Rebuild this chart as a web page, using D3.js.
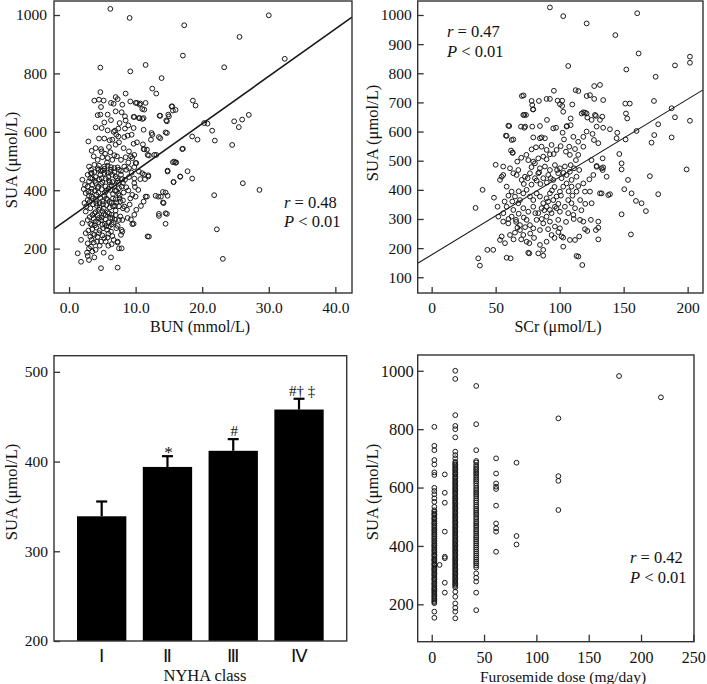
<!DOCTYPE html>
<html><head><meta charset="utf-8">
<script src="https://cdn.jsdelivr.net/npm/d3@7"></script>
<style>
html,body{margin:0;padding:0;background:#fff;}
svg{display:block;}
text{font-family:"Liberation Serif","Times New Roman",serif;fill:#111;}
</style></head>
<body>
<svg id="chart" width="707" height="684"></svg>
<script>
// ---------------- DATA ----------------
// Panel A: BUN (mmol/L) vs SUA (umol/L)
const bunPoints = [
[6.2,1021],[9.1,990],[17.3,965],[30.0,999],[25.6,925],[17.1,861],[32.4,850],[4.7,820],[9.2,807],[11.5,829],[23.3,821],[13.9,784],[12.5,748],[13.1,731],[18.6,707],[19.0,690],[15.5,687],[16.0,675],[13.7,655],[14.9,659],[14.6,639],[14.7,596],[12.4,596],[13.7,578],[17.1,542],[18.5,584],[19.3,573],[20.3,630],[20.8,628],[21.5,604],[21.9,570],[24.5,555],[24.8,636],[25.5,616],[26.0,642],[27.0,658],[26.1,424],[28.6,401],[21.8,383],[22.2,266],[23.1,165],[11.8,242],[14.8,464],[15.6,496],[16.0,494],[15.7,428],[16.7,446],[17.8,465],[18.5,440],[14.1,394],[13.4,378],[14.1,358],[14.8,381],[13.5,312],[14.5,321],[14.5,285],[11.7,378],[11.7,539],[11.3,540],[12.0,519],[13.1,521],[11.9,451],[11.4,438],[10.7,438],[11.0,458],[10.1,493],[9.7,285],[9.9,411],[9.8,440],[9.7,559],[10.2,564],[11.1,557],[11.2,607],[11.2,647],[10.6,647],[10.7,697],[10.2,699],[11.5,699],[11.3,676],[9.7,651],[9.2,704],
[4.7,736],[3.8,707],[4.5,710],[5.2,707],[7.0,719],[7.3,712],[6.3,699],[6.7,696],[8.0,693],[8.5,731],[10.0,699],[10.6,693],[11.0,678],[15.4,687],[15.6,673],[4.8,685],[4.7,659],[5.8,659],[4.3,657],[7.0,670],[7.9,667],[8.4,653],[8.5,639],[9.8,651],[10.5,647],[11.0,644],[13.6,655],[14.7,636],[15.0,653],
[4.0,615],[4.9,613],[5.8,605],[6.9,604],[7.4,611],[8.4,611],[9.7,613],[13.5,582],[14.5,598],[2.9,567],[4.5,577],[5.3,577],[6.1,571],[6.5,573],[7.4,584],[8.3,582],[8.8,587],[12.5,590],[12.3,573],
[4.0,544],[4.8,541],[6.0,548],[8.2,544],[9.0,533],[9.8,521],[7.0,556],[7.5,564],[9.3,516],[9.5,510],[11.2,541],[11.8,521],[12.8,521],[15.8,498],[16.1,495],[14.8,467],[16.7,447],[15.7,428],[17.0,541],
[3.7,516],[4.3,504],[5.0,513],[5.8,510],[6.5,504],[7.2,516],[7.8,504],[8.5,513],[10.0,493],
[3.0,481],[3.8,487],[4.5,484],[5.3,481],[5.8,484],[6.3,479],[6.8,476],[7.5,470],[8.3,481],[9.0,476],[9.8,479],[10.5,464],[11.3,453],[11.9,447],
[2.0,436],[2.4,418],[2.8,453],[3.4,459],[4.0,445],[4.7,453],[5.3,459],[5.9,445],[6.5,453],[7.2,441],[7.8,453],[8.4,436],[9.0,445],[9.8,424],
[2.8,413],[3.5,418],[4.3,407],[4.8,422],[5.5,413],[6.2,401],[6.8,415],[7.5,407],[8.2,392],[8.9,399],[9.5,384],[10.0,378],
[2.3,356],[2.8,367],[3.4,378],[4.0,367],[4.7,373],[5.3,381],[5.8,367],[6.4,356],[7.0,369],[7.7,361],[8.3,344],[8.7,333],
[11.5,378],[13.0,381],[13.8,378],[14.5,392],[14.2,356],[13.5,319],[14.7,319],[12.0,241],[11.2,361],[10.8,346],[10.1,333],[9.8,316],
[2.5,327],[3.2,338],[3.8,321],[4.5,333],[5.2,338],[5.8,324],[6.4,316],[7.0,330],[7.7,310],[8.0,298],
[2.0,287],[2.8,298],[3.4,281],[4.0,293],[4.8,298],[5.4,285],[6.0,276],[6.7,289],[7.3,278],[7.9,264],[9.5,284],
[1.8,230],[2.5,253],[3.2,241],[3.8,247],[4.5,253],[5.3,236],[5.9,251],[6.7,230],[7.3,224],[7.8,247],[8.0,258],
[2.8,218],[3.3,207],[3.7,221],[4.2,224],[4.8,224],[5.5,224],[7.3,221],[7.5,201],[7.9,201],
[3.0,201],[4.0,196],[2.7,186],[3.5,190],[1.3,184],[2.8,175],[1.8,155],[3.0,161],[3.8,170],[5.2,186],[6.3,170],[4.8,133],[7.3,135],
[3.3,395],[3.9,432],[4.4,392],[4.9,441],[5.6,398],[6.1,427],[6.6,387],[7.3,432],[3.6,352],[4.2,346],[5.0,362],[5.6,349],[6.1,341],[6.9,347],[3.1,308],[3.7,302],[4.3,314],[4.9,307],[5.5,300],[6.2,305],[6.9,299],[3.5,267],[4.1,272],[4.6,262],[5.1,270],[5.7,265],[6.3,258],[4.4,470],[5.1,468],[5.7,495],[6.2,462],[3.2,441],[4.1,385],[4.6,356],[5.2,318],[5.9,290],[6.6,372],[7.1,398],[7.6,382],[8.1,425],[8.6,410],[9.2,372],[9.4,460],[8.9,495],[8.6,470],[9.1,351],[8.8,305],[9.3,300],[6.8,520],[6.2,530],[5.4,525],[4.9,533],[3.4,535],[3.0,380],[2.5,390],[2.2,404],[6.7,600],[5.3,632],[6.3,640],[7.6,630],[8.9,622],[9.4,590],[7.1,590],[3.3,458],[7.5,345],[8.1,365],[10.4,401],
[2.6,345],[3.1,360],[3.6,372],[4.1,355],[4.6,340],[5.1,352],[5.6,372],[6.1,360],[6.6,345],[7.1,358],[7.6,372],[8.1,338],[2.9,395],[3.4,405],[3.9,398],[4.4,412],[4.9,403],[5.4,392],[5.9,405],[6.4,417],[6.9,398],[7.4,388],[7.9,412],[3.0,430],[3.5,440],[4.0,425],[4.5,437],[5.0,428],[5.5,440],[6.0,433],[6.5,428],[7.0,447],[7.5,425],[8.0,438],[3.3,470],[3.8,462],[4.3,475],[4.8,466],[5.3,473],[5.8,460],[6.3,470],[6.8,462],[7.3,478],[7.8,466],[3.5,315],[4.0,325],[4.5,305],[5.0,328],[5.5,315],[6.0,320],[6.5,305],[7.0,315],[7.5,298],[3.2,285],[3.9,280],[4.4,290],[5.0,282],[5.6,277],[6.4,283],[7.1,270],[2.9,262],[3.6,250],[4.3,240],[5.0,245],[5.8,238],[6.5,243],[4.6,210],[5.9,210],[6.4,215],[3.4,230]
];
const bunFit = {intercept: 304, slope: 16.2};
const bunStats = ["r = 0.48", "P < 0.01"];
const bunXTicks = [0, 10, 20, 30, 40];
const bunYTicks = [200, 400, 600, 800, 1000];

// Panel B: SCr (umol/L) vs SUA
const scrPoints = [
[92.4,1026],[102.8,996],[121.1,971],[160.6,1006],[143.5,931],[161.7,868],[106.7,825],[152.1,813],[175,788],[190.1,827],[201.8,857],[201.8,836],[123.7,725],[127,756],[127,712],[134,613],[139.3,608],[151.3,696],[154.8,696],[151.8,662],[152.8,645],[151.5,573],[160.1,602],[173.7,705],[173.9,588],[171.8,562],[177,625],[187.5,680],[190.1,649],[187.5,580],[201.8,637],[199.2,470],[170.5,447],[177,385],[167.4,327],[164,354],[159.6,362],[156.2,388],[150.5,402],[153.4,434],[148.4,470],[148.4,491],[146.6,523],[144.5,577],[145,596],[148.4,316],[155.7,247],[139.3,385],[132.8,388],[133.6,468],[133.6,508],[128.9,482],[130.2,291],[130.2,270],[130.2,230],[125,354],[124.4,297],[128.3,262],[114.6,171],[117.7,142],[102.8,236],[108,228],[34.3,338],[36.4,165],[37.7,140],[39.8,400],[43.5,194],[48.1,194],[48.7,373],[50,486],[51.5,342],[58,586],[60.6,619],[63.8,573],[63.3,527],[70.5,722],[71.8,724],[72.4,657],[73.7,657],[72.4,613],[78.1,705],[78.6,691],[78.6,617],[79.1,676],[84.6,619],[83.8,705],[90.1,640],[89.8,712],[92.4,712],[95.5,740],[98.4,706],[100.2,694],[102,706],[102,688],[102.8,668],[109.9,693],[105.7,619],[108.6,622],[112.5,742],[114.6,739],[121.1,722],[121.6,648],[118.5,666],[119.8,665],[128.3,654],[133.3,651],[58.6,167],[76.3,182],[87.2,174],
[55.9,480],[55.9,451],[59.9,620],[58.6,585],[53.4,434],[54.7,445],[62.5,571],[63.3,528],[66.9,497],[67.7,468],[61.2,474],[63.8,457],[71.6,657],[69.8,617],[73.1,617],[79.4,676],[79.4,580],[78.1,539],[81.5,546],[84.6,577],[85.9,580],[88.5,577],[75.5,502],[79.4,497],[83.3,508],[87.2,514],[89.8,505],[92.4,522],[95.3,523],[95,611],[97.2,613],[102.3,596],[108.6,645],[105.4,617],[103.4,573],[107.5,548],[117.2,662],[121.1,662],[121.1,600],[125.7,592],[126.8,571],[130.2,560],[118.5,548],[114.5,520],[112.7,502],[108.6,485],[124.9,502],[128.9,479],[134,477],[126.3,451],[123.2,436],[118.5,422],[114.5,413],[119.8,394],[123.7,394],[131.5,388],[138,382],[106.7,320],[110.7,314],[112,337],[115.9,297],[118.5,291],[119.8,265],[121.6,259],[115.3,240],[112,228],[101.5,240],[102.8,205],[93.7,245],[89.8,222],[84.6,211],[87.2,194],[75.5,184],[83.3,182],[61.7,165],[113.2,173],[74.2,222],[76.3,217],[53.4,228],[54.7,240],[57.3,217],[61.2,245],[65.1,253],[69,262],[71.6,245],[52.1,308],[55.9,291],[59.9,285],[62.5,308],[65.9,297],[69,279],[74.2,297],[76.8,279],[79.4,268],[82,297],[84.6,262],[87.2,285],[89.8,308],[92.4,291],[96.3,274],[98.9,297],[100.2,268],[92.4,331],[96.3,342],[100.2,325],[104.1,342],[106.7,365],[109.3,354],
[58.6,411],[62.5,394],[65.1,377],[69,365],[71.6,388],[74.2,400],[76.8,377],[79.4,365],[82,388],[84.6,377],[87.2,354],[89.8,371],[92.4,388],[95,365],[97.6,377],[100.2,394],[102.8,411],[105.4,422],[109.3,411],[113.2,394],
[58.6,342],[63.8,331],[67.7,354],[71.6,337],[75.5,325],[79.4,342],[83.3,320],[85.9,337],[89.8,342],[93.7,320],[97.6,337],
[66.4,451],[70.3,434],[72.9,445],[76.8,457],[80.7,440],[83.3,457],[87.2,440],[91.1,451],[95,434],[98.9,457],[101.5,440],[105.4,451],[109.3,434],[113.2,445],
[80.7,491],[84.6,474],[88.5,480],[92.4,468],[96.3,485],[100.2,474],[104.1,480],[108,462],[111.2,474],[115.3,468],
[85.9,548],[89.8,537],[93.7,554],[97.6,537],[100.8,550],[104.9,531],[110.7,582],[114.5,565],[118.5,582],
[128.9,617],[131.5,640],[127.6,657],[125,640],[134,708],[131.5,760],[132.8,474],[136.7,445],
[64,230],[66,290],[68,318],[72,305],[70,230],[77,250],[80,235],[81,320],[86,300],[88,330],[91,360],[94,398],[96,410],[99,352],[101,380],[85,420],[82,432],[78,418],[75,440],[72,420],[68,395],[63,360],[60,380],[57,360],[56,320],[60,300],[67,270],[73,272],[90,425],[93,440],[98,468],[103,458],[107,395],[110,380],[116,365],[120,352],[117,330],[111,300],[105,290],[99,255],[96,235],[91,265],[70,510],[74,520],[78,478],[84,460],[62,535],[108,520],[112,540]
];
const scrFit = {intercept: 177, slope: 2.67};
const scrStats = ["r = 0.47", "P < 0.01"];
const scrXTicks = [0, 50, 100, 150, 200];
const scrYTicks = [100, 200, 300, 400, 500, 600, 700, 800, 900, 1000];

// Panel C: SUA by NYHA class (mean, SE)
const nyhaClasses = ["\u2160", "\u2161", "\u2162", "\u2163"];
const nyhaMean = [339, 394, 412, 458];
const nyhaSE = [16.5, 12, 13, 12];
const nyhaMarks = ["", "*", "#", "#\u2020 \u2021"];
const nyhaYTicks = [200, 300, 400, 500];

// Panel D: Furosemide dose (mg/day) vs SUA
const furoDoses = [2.5, 7.5, 12.5, 22.5, 42.5, 61.5, 81, 121, 179, 219];
const furoSUA = [
 [808,743,728,694,679,652,643,599,588,577,563,551,534,522,517,511,508,503,496,494,489,483,478,476,470,465,461,455,452,447,441,438,433,427,424,418,414,409,403,401,396,390,386,382,377,371,368,364,358,353,351,346,340,337,333,327,322,319,315,310,305,301,297,291,287,284,279,273,270,266,260,255,252,248,243,239,235,229,226,221,217,212,208,204,175,154],
 [335],
 [645,582,548,449,363,358,274,240],
 [1000,972,848,811,800,772,723,711,700,688,684,679,676,670,666,661,657,652,647,644,638,634,630,625,620,616,612,607,603,598,594,590,585,581,577,571,567,563,558,554,549,546,541,537,532,528,524,519,515,511,506,502,497,493,489,484,480,476,471,467,463,458,454,450,445,441,437,432,428,423,419,415,410,406,402,397,393,389,384,380,376,371,367,362,358,354,349,345,341,336,332,328,323,319,315,310,306,302,297,293,289,284,280,276,271,267,263,258,243,226,203,188,175,152],
 [948,817,728,691,686,677,670,664,659,652,647,640,633,627,621,614,606,598,591,584,578,571,563,556,549,541,535,527,520,513,507,499,492,484,478,471,465,457,451,444,436,430,423,416,409,402,395,388,381,374,367,360,353,346,340,333,326,306,291,278,240,180],
 [700,648,614,603,595,538,477,460,449,380],
 [685,434,405],
 [837,639,623,523],
 [982],
 [909]
];
const furoStats = ["r = 0.42", "P < 0.01"];
const furoXTicks = [0, 50, 100, 150, 200, 250];
const furoYTicks = [200, 400, 600, 800, 1000];

// ---------------- DRAWING ----------------
const svg = d3.select("#chart");
const ink = "#1a1a1a";
const serif = '"Liberation Serif","Times New Roman",serif';

function frame(l, t, r, b) {
  svg.append("rect").attr("x", l).attr("y", t).attr("width", r - l).attr("height", b - t)
    .attr("fill", "none").attr("stroke", "#333").attr("stroke-width", 1.4);
}
function yAxis(y, left, ticks, fmt, fs, pad) {
  const g = svg.append("g").attr("transform", `translate(${left},0)`)
    .call(d3.axisLeft(y).tickValues(ticks).tickFormat(fmt).tickSize(-6).tickPadding(pad));
  g.select(".domain").remove();
  g.selectAll(".tick line").attr("stroke", "#333").attr("stroke-width", 1.3);
  g.selectAll("text").attr("font-size", fs).attr("fill", ink).attr("font-family", serif);
  return g;
}
function xAxis(x, bottom, ticks, fmt, fs, base, tsize, fam) {
  const g = svg.append("g").attr("transform", `translate(0,${bottom})`)
    .call(d3.axisBottom(x).tickValues(ticks).tickFormat(fmt).tickSize(tsize));
  g.select(".domain").remove();
  g.selectAll(".tick line").attr("stroke", "#333").attr("stroke-width", 1.3);
  g.selectAll("text").attr("dy", null).attr("y", base).attr("font-size", fs).attr("fill", ink)
    .attr("font-family", fam || serif);
  return g;
}
function yTitle(x, y, txt, fs) {
  svg.append("text").attr("transform", `translate(${x},${y}) rotate(-90)`)
    .attr("text-anchor", "middle").attr("font-size", fs).text(txt);
}
function xTitle(x, y, txt, fs) {
  svg.append("text").attr("x", x).attr("y", y).attr("text-anchor", "middle")
    .attr("font-size", fs).text(txt);
}
function stats(x, y1, y2, lines, fs) {
  [[y1, lines[0]], [y2, lines[1]]].forEach(([yy, s]) => {
    const t = svg.append("text").attr("x", x).attr("y", yy).attr("font-size", fs);
    t.append("tspan").attr("font-style", "italic").text(s.charAt(0));
    t.append("tspan").text(s.slice(1));
  });
}
function dots(pts, x, y) {
  svg.append("g").selectAll("circle").data(pts).join("circle")
    .attr("cx", d => x(d[0])).attr("cy", d => y(d[1])).attr("r", 2.4)
    .attr("fill", "none").attr("stroke", ink).attr("stroke-width", 1);
}
function fitLine(fit, x, y, w) {
  const [a, b] = x.domain();
  svg.append("line")
    .attr("x1", x(a)).attr("y1", y(fit.intercept + fit.slope * a))
    .attr("x2", x(b)).attr("y2", y(fit.intercept + fit.slope * b))
    .attr("stroke", ink).attr("stroke-width", w);
}

// ---- Panel A ----
{
  const L = 54, T = 1, R = 352, B = 293;
  const x = d3.scaleLinear().domain([-2.26, 42.5]).range([L, R]);
  const y = d3.scaleLinear().domain([48, 1048]).range([B, T]);
  dots(bunPoints, x, y);
  fitLine(bunFit, x, y, 1.6);
  frame(L, T, R, B);
  yAxis(y, L, bunYTicks, d3.format("d"), 15.5, 7);
  xAxis(x, B, bunXTicks, d3.format(".1f"), 15.5, 19.5, -6);
  yTitle(17, 160, "SUA (\u03bcmol/L)", 16.5);
  xTitle(200, 331.5, "BUN (mmol/L)", 16);
  stats(284, 208, 227, bunStats, 16.5);
}
// ---- Panel B ----
{
  const L = 417.7, T = 1, R = 703, B = 293;
  const x = d3.scaleLinear().domain([-10.9, 212]).range([L, R]);
  const y = d3.scaleLinear().domain([46, 1048]).range([B, T]);
  dots(scrPoints, x, y);
  fitLine(scrFit, x, y, 1.1);
  frame(L, T, R, B);
  yAxis(y, L, scrYTicks, d3.format("d"), 15.5, 6);
  xAxis(x, B, scrXTicks, d3.format("d"), 15.5, 19.5, -6);
  yTitle(378, 133, "SUA (\u03bcmol/L)", 16.5);
  xTitle(558, 331.5, "SCr (\u03bcmol/L)", 16);
  stats(447, 37, 57, scrStats, 16.5);
}
// ---- Panel C ----
{
  const L = 54, T = 355.7, R = 346.7, B = 641;
  const x = d3.scaleBand().domain(nyhaClasses).range([L, R]).paddingInner(0.25).paddingOuter(0.35);
  const y = d3.scaleLinear().domain([200, 518]).range([B, T]);
  const rows = nyhaClasses.map((c, i) => ({c, m: nyhaMean[i], se: nyhaSE[i], mark: nyhaMarks[i]}));
  const g = svg.append("g");
  g.selectAll("line.err").data(rows).join("line").attr("class", "err")
    .attr("x1", d => x(d.c) + x.bandwidth() / 2).attr("x2", d => x(d.c) + x.bandwidth() / 2)
    .attr("y1", d => y(d.m)).attr("y2", d => y(d.m + d.se))
    .attr("stroke", "#000").attr("stroke-width", 2.2);
  g.selectAll("line.cap").data(rows).join("line").attr("class", "cap")
    .attr("x1", d => x(d.c) + x.bandwidth() / 2 - 5.5).attr("x2", d => x(d.c) + x.bandwidth() / 2 + 5.5)
    .attr("y1", d => y(d.m + d.se)).attr("y2", d => y(d.m + d.se))
    .attr("stroke", "#000").attr("stroke-width", 2.2);
  g.selectAll("rect").data(rows).join("rect")
    .attr("x", d => x(d.c)).attr("width", x.bandwidth())
    .attr("y", d => y(d.m)).attr("height", d => y(200) - y(d.m)).attr("fill", "#000");
  g.selectAll("text").data(rows).join("text")
    .attr("x", d => x(d.c) + x.bandwidth() / 2 + (d.mark.length > 2 ? 3 : 1))
    .attr("y", d => y(d.m + d.se) - (d.mark === "*" ? -2 : 3))
    .attr("text-anchor", "middle").attr("font-size", d => d.mark === "*" ? 17 : 15).text(d => d.mark);
  frame(L, T, R, B);
  yAxis(y, L, nyhaYTicks, d3.format("d"), 15.5, 6);
  xAxis(x, B, nyhaClasses, d => d, 18, 20.5, 0, '"DejaVu Serif","Liberation Serif",serif');
  yTitle(17, 492, "SUA (\u03bcmol/L)", 16.5);
  xTitle(205, 681, "NYHA class", 16.5);
}
// ---- Panel D ----
{
  const L = 417.7, T = 355, R = 694, B = 641.7;
  const x = d3.scaleLinear().domain([-13.4, 250.6]).range([L, R]);
  const y = d3.scaleLinear().domain([72, 1054]).range([B, T]);
  const pts = furoDoses.flatMap((d, i) => furoSUA[i].map(v => [d, v]));
  dots(pts, x, y);
  frame(L, T, R, B);
  yAxis(y, L, furoYTicks, d3.format("d"), 16.5, 4);
  xAxis(x, B, furoXTicks, d3.format("d"), 16, 21.5, -7);
  yTitle(378, 492, "SUA (\u03bcmol/L)", 16.5);
  xTitle(563, 682, "Furosemide dose (mg/day)", 15.5);
  stats(630, 563, 583, furoStats, 16.5);
}
</script>
</body></html>
